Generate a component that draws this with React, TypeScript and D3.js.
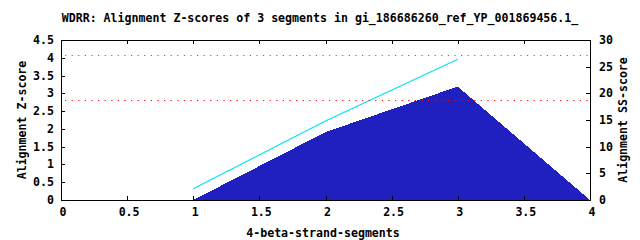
import React from "react";
import * as d3 from "d3";

const title = "WDRR: Alignment Z-scores of 3 segments in gi_186686260_ref_YP_001869456.1_";
const xLabel = "4-beta-strand-segments";
const yLeftLabel = "Alignment Z-score";
const yRightLabel = "Alignment SS-score";

const xTicks = [0, 0.5, 1, 1.5, 2, 2.5, 3, 3.5, 4];
const yLeftTicks = [0, 0.5, 1, 1.5, 2, 2.5, 3, 3.5, 4, 4.5];
const yRightTicks = [0, 5, 10, 15, 20, 25, 30];

// Z-score area (left axis)
const zX = [1, 2, 3, 4];
const zValues = [0, 1.91, 3.19, 0];
// SS-score line (right axis)
const ssX = [1, 2, 3];
const ssValues = [2.1, 14.8, 26.4];
// threshold lines (left axis)
const greenThreshold = 4.07;
const redThreshold = 2.8;

const W = 640, H = 240;
const L = 61, R = 590, T = 40, B = 200;
const FONT = "'DejaVu Sans Mono', monospace";
const FS = 11.6;

export default function App() {
  const x = d3.scaleLinear().domain([0, 4]).range([L, R]);
  const yL = d3.scaleLinear().domain([0, 4.5]).range([B, T]);
  const yR = d3.scaleLinear().domain([0, 30]).range([B, T]);

  const zData = zX.map((v, i) => [v, zValues[i]] as [number, number]);
  const ssData = ssX.map((v, i) => [v, ssValues[i]] as [number, number]);

  const area = d3.area<[number, number]>()
    .x(d => x(d[0]))
    .y0(yL(0))
    .y1(d => yL(d[1]))(zData) || "";
  const line = d3.line<[number, number]>()
    .x(d => x(d[0]))
    .y(d => yR(d[1]))(ssData) || "";

  const tl = 4;
  const textStyle: React.CSSProperties = { fontFamily: FONT, fontSize: FS, fontWeight: "bold" };

  return (
    <svg width={W} height={H} style={{ position: "absolute", left: 0, top: 0, background: "#fff" }}>
      <rect x={0} y={0} width={W} height={H} fill="#fff" />
      <text x={320} y={22} textAnchor="middle" style={textStyle} fill="#000">{title}</text>

      <path d={area} fill="#2020c0" shapeRendering="crispEdges" />
      <path d={line} fill="none" stroke="#00e5ee" strokeWidth={1.2} />

      <line x1={L} x2={R} y1={Math.round(yL(greenThreshold)) + 0.5} y2={Math.round(yL(greenThreshold)) + 0.5}
        stroke="#00c000" strokeWidth={1.2} strokeDasharray="1.2 5.4" strokeDashoffset={-4} />
      <line x1={L} x2={R} y1={Math.round(yL(redThreshold)) + 0.5} y2={Math.round(yL(redThreshold)) + 0.5}
        stroke="#ff0000" strokeWidth={1.2} strokeDasharray="1.2 5.4" strokeDashoffset={-4} />

      <g shapeRendering="crispEdges" stroke="#000" strokeWidth={1}>
        <rect x={L + 0.5} y={T + 0.5} width={R - L} height={B - T} fill="none" />
        {xTicks.map(t => (
          <g key={"xt" + t}>
            <line x1={Math.round(x(t)) + 0.5} x2={Math.round(x(t)) + 0.5} y1={B} y2={B - tl} />
            <line x1={Math.round(x(t)) + 0.5} x2={Math.round(x(t)) + 0.5} y1={T} y2={T + tl} />
          </g>
        ))}
        {yLeftTicks.map(t => (
          <line key={"yl" + t} x1={L} x2={L + tl} y1={Math.round(yL(t)) + 0.5} y2={Math.round(yL(t)) + 0.5} />
        ))}
        {yRightTicks.map(t => (
          <line key={"yr" + t} x1={R} x2={R - tl} y1={Math.round(yR(t)) + 0.5} y2={Math.round(yR(t)) + 0.5} />
        ))}
      </g>

      {xTicks.map(t => (
        <text key={"xl" + t} x={x(t) + 2} y={216} textAnchor="middle" style={textStyle}>{String(t)}</text>
      ))}
      {yLeftTicks.map(t => (
        <text key={"yll" + t} x={54} y={yL(t) + 4} textAnchor="end" style={textStyle}>{String(t)}</text>
      ))}
      {yRightTicks.map(t => (
        <text key={"yrl" + t} x={599} y={yR(t) + 4} textAnchor="start" style={textStyle}>{String(t)}</text>
      ))}

      <text x={323} y={237} textAnchor="middle" style={textStyle}>{xLabel}</text>
      <text transform={`translate(26,${(T + B) / 2}) rotate(-90)`} textAnchor="middle" style={textStyle}>{yLeftLabel}</text>
      <text transform={`translate(627,${(T + B) / 2}) rotate(-90)`} textAnchor="middle" style={textStyle}>{yRightLabel}</text>
    </svg>
  );
}
